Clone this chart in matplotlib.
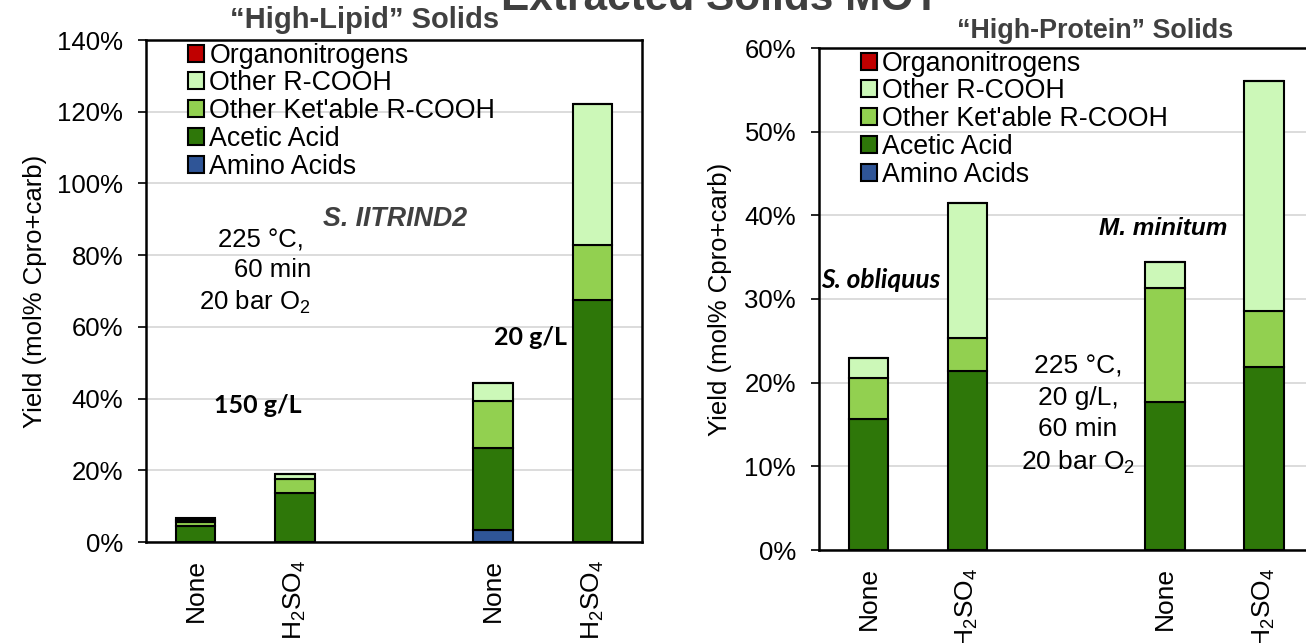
import matplotlib
matplotlib.use("Agg")
import matplotlib.pyplot as plt
from matplotlib.ticker import PercentFormatter
import numpy as np

plt.rcParams['font.family'] = ['Liberation Sans', 'DejaVu Sans']
plt.rcParams['mathtext.default'] = 'regular'

series = ["Amino Acids", "Acetic Acid", "Other Ket'able R-COOH", "Other R-COOH", "Organonitrogens"]
colors = ["#2F5597", "#2E7709", "#92D050", "#CCF8B8", "#C00000"]

tick_labels = ["None", "H$_2$SO$_4$", "None", "H$_2$SO$_4$"]
positions = [0, 1, 3, 4]

# "High-Lipid" solids (S. IITRIND2), 150 g/L then 20 g/L
lipid_amino = [0.0, 0.0, 3.3, 0.0]
lipid_acetic = [4.5, 13.6, 23.0, 67.5]
lipid_ketable = [1.1, 4.0, 13.0, 15.3]
lipid_other = [0.4, 1.4, 5.0, 39.3]
lipid_organo = [0.6, 0.0, 0.0, 0.0]

# "High-Protein" solids, S. obliquus then M. minitum
protein_amino = [0.0, 0.0, 0.0, 0.0]
protein_acetic = [15.7, 21.4, 17.7, 21.9]
protein_ketable = [4.9, 3.9, 13.6, 6.7]
protein_other = [2.4, 16.2, 3.1, 27.4]
protein_organo = [0.0, 0.0, 0.0, 0.0]


def draw_stack(ax, layers, ymax, ystep):
    bottom = np.zeros(len(positions))
    handles = []
    for name, vals, c in zip(series, layers, colors):
        vals = np.array(vals)
        b = ax.bar(positions, vals, width=0.4, bottom=bottom, color=c,
                   edgecolor="black", linewidth=1.5, label=name, zorder=3)
        handles.append(b)
        bottom = bottom + vals
    ax.set_xlim(-0.5, 4.5)
    ax.set_ylim(0, ymax)
    ax.set_yticks(np.arange(0, ymax + 0.1, ystep))
    ax.yaxis.set_major_formatter(PercentFormatter(decimals=0))
    ax.set_xticks(positions)
    ax.set_xticklabels(tick_labels, rotation=90, fontsize=19)
    ax.tick_params(axis="x", length=0, pad=12.5)
    ax.tick_params(axis="y", labelsize=18.5, length=6, width=1.2, direction="out", pad=10.5)
    ax.grid(axis="y", color="#D9D9D9", linewidth=1.3, zorder=0)
    for s in ax.spines.values():
        s.set_linewidth(1.8)
    ax.set_ylabel("Yield (mol% Cpro+carb)", fontsize=18.5)
    leg = ax.legend(handles[::-1], series[::-1], loc="upper left",
                    bbox_to_anchor=(0.079, 1.0), frameon=False, fontsize=19.3,
                    handlelength=0.6, handleheight=0.6, handletextpad=0.2,
                    labelspacing=0.065, borderaxespad=0.0, borderpad=0.1)
    return leg


fig = plt.figure(figsize=(13.06, 6.43), dpi=100)

ax1 = fig.add_axes([146 / 1306, 101 / 643, 496 / 1306, 502 / 643])
draw_stack(ax1, [lipid_amino, lipid_acetic, lipid_ketable, lipid_other, lipid_organo], 140, 20)
ax1.yaxis.set_label_coords(-0.199, 0.5)

ax2 = fig.add_axes([819 / 1306, 93 / 643, 494.5 / 1306, 502 / 643])
draw_stack(ax2, [protein_amino, protein_acetic, protein_ketable, protein_other, protein_organo], 60, 10)
ax2.yaxis.set_label_coords(-0.176, 0.5)

# titles
fig.text(720 / 1306, 1 - 10 / 643, "Extracted Solids MOT", ha="center", va="baseline",
         fontsize=30.5, fontweight="bold", color="#404040")
fig.text(365 / 1306, 1 - 28 / 643, "\u201cHigh-Lipid\u201d Solids", ha="center", va="baseline",
         fontsize=21, fontweight="bold", color="#404040")
fig.text(1095 / 1306, 1 - 38 / 643, "\u201cHigh-Protein\u201d Solids", ha="center", va="baseline",
         fontsize=19.4, fontweight="bold", color="#404040")

# left annotations
ax1.text(2.01, 88.1, "S. IITRIND2", ha="center", va="baseline", fontsize=19.3,
         fontweight="bold", style="italic", color="#404040")
ax1.text(1.163, 75.3, "225 \u00b0C, \n60 min\n20 bar O$_2$", ha="right", va="center",
         multialignment="right", fontsize=18.5, linespacing=1.3)
ax1.text(0.63, 38.2, "150 g/L", ha="center", va="center", fontsize=18,
         fontweight="bold", family=["Lato", "DejaVu Sans"])
ax1.text(3.38, 56.9, "20 g/L", ha="center", va="center", fontsize=18,
         fontweight="bold", family=["Lato", "DejaVu Sans"])

# right annotations
ax2.text(0.127, 32.3, "S. obliquus", ha="center", va="center", fontsize=19,
         fontweight="bold", style="italic", family=["Lato", "DejaVu Sans"])
ax2.text(2.98, 38.4, "M. minitum", ha="center", va="center", fontsize=17.5,
         fontweight="bold", style="italic")
ax2.text(2.12, 16.1, "225 \u00b0C,\n20 g/L,\n60 min\n20 bar O$_2$", ha="center", va="center",
         multialignment="center", fontsize=19, linespacing=1.39)

fig.savefig("out.png", dpi=100)
